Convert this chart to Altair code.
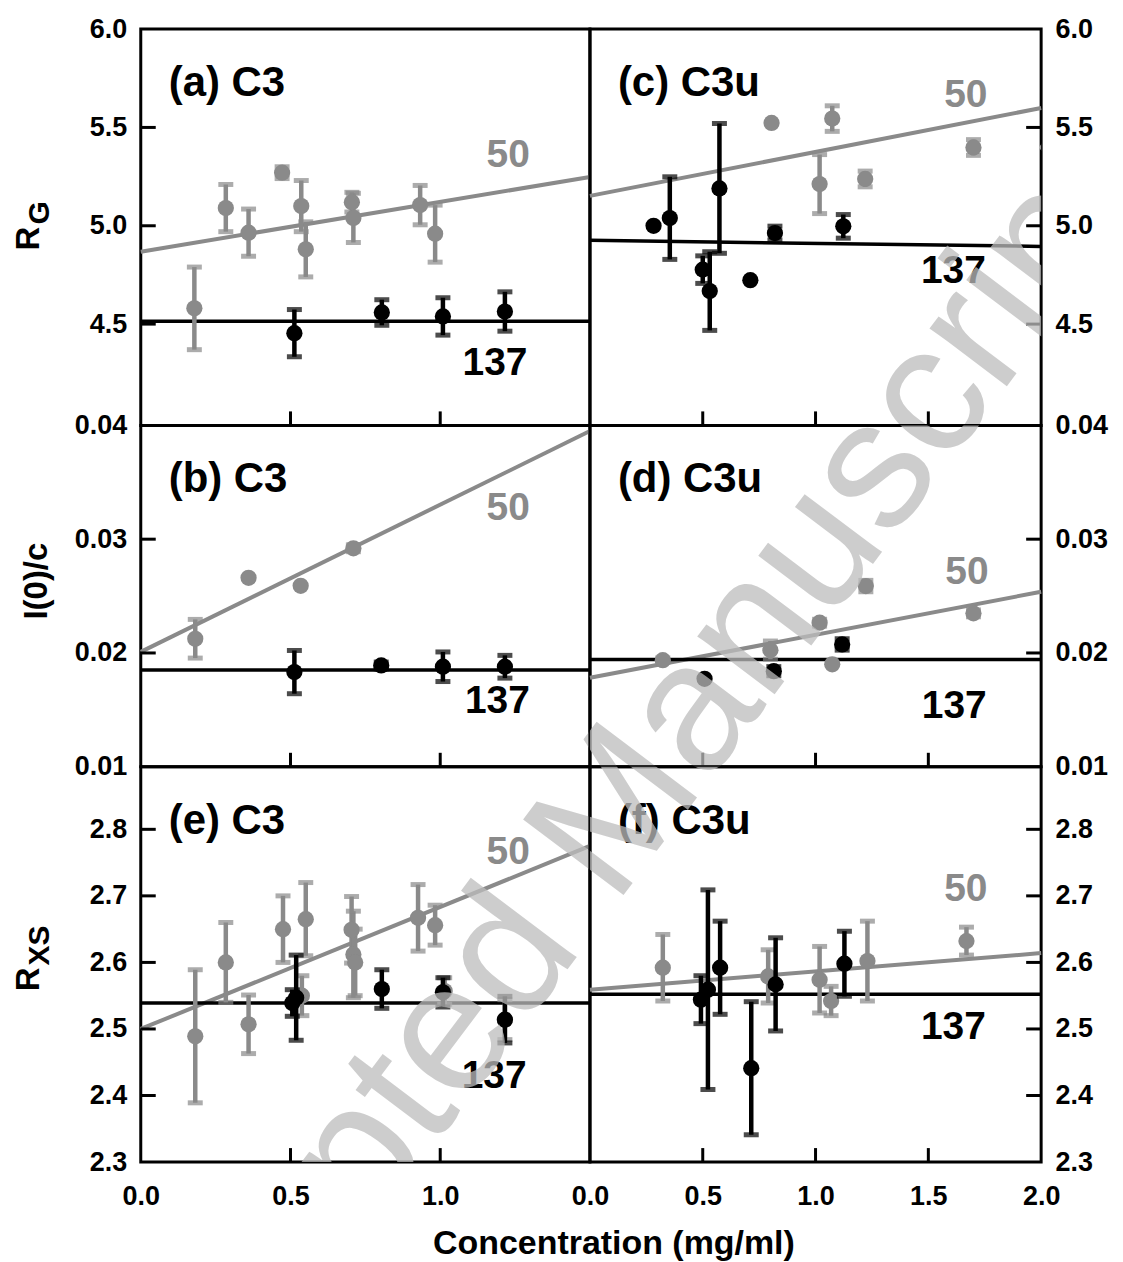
import altair as alt
import pandas as pd

GRAY = "#8a8a8a"
BLACK = "#000000"
FONT = "Liberation Sans"

# ---------------- data ----------------
# (a) C3, R_G
a_g_x = [0.179, 0.284, 0.36, 0.472, 0.536, 0.551, 0.705, 0.71, 0.933, 0.983]
a_g_y = [4.58, 5.09, 4.965, 5.27, 5.10, 4.88, 5.12, 5.04, 5.105, 4.96]
a_g_e = [0.21, 0.12, 0.12, 0.03, 0.13, 0.14, 0.05, 0.125, 0.10, 0.145]
a_b_x = [0.513, 0.805, 1.009, 1.216]
a_b_y = [4.454, 4.559, 4.539, 4.564]
a_b_e = [0.12, 0.065, 0.095, 0.10]
a_fit_x = [0.0, 1.5]
a_fit_g = [4.868, 5.248]
a_fit_b = [4.514, 4.514]

# (c) C3u, R_G
c_g_x = [0.805, 1.074, 1.018, 1.22, 1.70]
c_g_y = [5.523, 5.545, 5.212, 5.238, 5.398]
c_g_e = [0.0, 0.065, 0.15, 0.04, 0.04]
c_b_x = [0.282, 0.354, 0.574, 0.50, 0.531, 0.711, 0.82, 1.123]
c_b_y = [5.0, 5.039, 5.19, 4.777, 4.668, 4.723, 4.963, 4.997]
c_b_e = [0.0, 0.21, 0.33, 0.07, 0.20, 0.0, 0.035, 0.06]
c_fit_x = [0.0, 2.0]
c_fit_g = [5.152, 5.599]
c_fit_b = [4.926, 4.895]

# (b) C3, I(0)/c
b_g_x = [0.182, 0.36, 0.534, 0.71]
b_g_y = [0.02125, 0.0266, 0.0259, 0.0292]
b_g_e = [0.0017, 0.0, 0.0, 0.0003]
b_b_x = [0.513, 0.803, 1.009, 1.216]
b_b_y = [0.01832, 0.0189, 0.01879, 0.01879]
b_b_e = [0.0019, 0.0003, 0.0013, 0.001]
b_fit_x = [0.0, 1.5]
b_fit_g = [0.0201, 0.0395]
b_fit_b = [0.0185, 0.0185]

# (d) C3u, I(0)/c
d_g_x = [0.323, 0.80, 1.018, 1.074, 1.223, 1.70]
d_g_y = [0.01937, 0.02025, 0.02266, 0.0190, 0.02588, 0.02348]
d_g_e = [0.0002, 0.0008, 0.0003, 0.0, 0.0005, 0.0003]
d_b_x = [0.508, 0.815, 1.118]
d_b_y = [0.01773, 0.0184, 0.02075]
d_b_e = [0.0, 0.0004, 0.0005]
d_fit_x = [0.0, 2.0]
d_fit_g = [0.01782, 0.02538]
d_fit_b = [0.01943, 0.01943]

# (e) C3, R_XS
e_g_x = [0.182, 0.284, 0.36, 0.475, 0.551, 0.538, 0.704, 0.71, 0.716, 0.926, 0.983, 1.015, 1.216]
e_g_y = [2.489, 2.60, 2.507, 2.65, 2.665, 2.55, 2.649, 2.612, 2.60, 2.667, 2.656, 2.557, 2.514]
e_g_e = [0.10, 0.06, 0.044, 0.05, 0.055, 0.03, 0.05, 0.065, 0.05, 0.05, 0.03, 0.02, 0.03]
e_b_x = [0.506, 0.519, 0.805, 1.009, 1.216]
e_b_y = [2.539, 2.547, 2.56, 2.555, 2.514]
e_b_e = [0.02, 0.064, 0.029, 0.022, 0.035]
e_fit_x = [0.0, 1.5]
e_fit_g = [2.50, 2.775]
e_fit_b = [2.539, 2.539]

# (f) C3u, R_XS
f_g_x = [0.323, 0.79, 1.018, 1.069, 1.23, 1.669]
f_g_y = [2.592, 2.579, 2.574, 2.542, 2.602, 2.632]
f_g_e = [0.05, 0.04, 0.05, 0.022, 0.06, 0.021]
f_b_x = [0.492, 0.523, 0.577, 0.715, 0.823, 1.128]
f_b_y = [2.544, 2.559, 2.592, 2.441, 2.567, 2.598]
f_b_e = [0.036, 0.15, 0.07, 0.10, 0.07, 0.049]
f_fit_x = [0.0, 2.0]
f_fit_g = [2.559, 2.614]
f_fit_b = [2.552, 2.552]

# line labels (text, x, y)
a_labels = [("50", 1.227, 5.358), ("137", 1.183, 4.302)]
c_labels = [("50", 1.666, 5.666), ("137", 1.611, 4.769)]
b_labels = [("50", 1.227, 0.03276), ("137", 1.191, 0.01577)]
d_labels = [("50", 1.671, 0.02711), ("137", 1.615, 0.01533)]
e_labels = [("50", 1.227, 2.766), ("137", 1.18, 2.429)]
f_labels = [("50", 1.666, 2.711), ("137", 1.611, 2.503)]

panel_titles = ["(a) C3", "(c) C3u", "(b) C3", "(d) C3u", "(e) C3", "(f) C3u"]

y_ticks_top = [4.5, 5.0, 5.5, 6.0]
y_ticks_mid = [0.01, 0.02, 0.03, 0.04]
y_ticks_bot = [2.3, 2.4, 2.5, 2.6, 2.7, 2.8]
x_ticks_left = [0.0, 0.5, 1.0]
x_ticks_right = [0.0, 0.5, 1.0, 1.5, 2.0]

WATERMARK = "Accepted Manuscript"

# ---------------- layout ----------------
WL, WR = 450, 452
HT, HM, HB = 397, 342, 396
YDOM_T = [3.985, 6.0]
YDOM_M = [0.01, 0.04]
YDOM_B = [2.3, 2.894]
WM_C = (455, 814)  # watermark centre relative to panel (a) origin


def frame(x, y, e):
    df = pd.DataFrame({"x": x, "y": y, "e": e})
    df["lo"] = df["y"] - df["e"]
    df["hi"] = df["y"] + df["e"]
    return df


def panel(gx, gy, ge, bx, by, be, fx, fg, fb, labels, title, xdom, ydom, w, h,
          side, yvals, yfmt, xvals, origin, bottom, ytitle=None, xtitle=False):
    xs = alt.Scale(domain=xdom, nice=False, zero=False)
    ys = alt.Scale(domain=ydom, nice=False, zero=False)
    if bottom:
        xaxis = alt.Axis(values=xvals, format=".1f", title=None, ticks=False, tickSize=0,
                         domain=False, grid=False, labelFont=FONT, labelFontWeight="bold",
                         labelFontSize=27, labelColor="black", labelPadding=22,
                         labelFlush=False, labelOverlap=False)
    else:
        xaxis = None
    yaxis = alt.Axis(orient=side, values=yvals, format=yfmt, title=None, ticks=False,
                     tickSize=0, domain=False, grid=False, labelFont=FONT,
                     labelFontWeight="bold", labelFontSize=27, labelColor="black",
                     labelPadding=14, labelFlush=False, labelOverlap=False)

    def X(f):
        return alt.X(f, type="quantitative", scale=xs, axis=xaxis)

    def Y(f):
        return alt.Y(f, type="quantitative", scale=ys, axis=yaxis)

    g = frame(gx, gy, ge)
    b = frame(bx, by, be)
    fit = pd.DataFrame({"x": fx, "g": fg, "b": fb})

    layers = []
    layers.append(alt.Chart(fit).mark_line(color=GRAY, strokeWidth=4).encode(x=X("x"), y=Y("g")))
    layers.append(alt.Chart(fit).mark_line(color=BLACK, strokeWidth=3.5).encode(x=X("x"), y=Y("b")))
    for df, col in ((g, GRAY), (b, BLACK)):
        eb = df[df["e"] > 0]
        if len(eb):
            layers.append(alt.Chart(eb).mark_rule(color=col, strokeWidth=4.5).encode(
                x=X("x"), y=Y("lo"), y2="hi"))
            layers.append(alt.Chart(eb).mark_tick(color=col, orient="horizontal", size=15,
                                                  thickness=5).encode(x=X("x"), y=Y("lo")))
            layers.append(alt.Chart(eb).mark_tick(color=col, orient="horizontal", size=15,
                                                  thickness=5).encode(x=X("x"), y=Y("hi")))
        layers.append(alt.Chart(df).mark_circle(color=col, size=265, opacity=1).encode(
            x=X("x"), y=Y("y")))

    # inward ticks
    yt = pd.DataFrame({"v": [v for v in yvals if ydom[0] < v < ydom[1]]})
    if side == "left":
        layers.append(alt.Chart(yt).mark_rule(color="black", strokeWidth=3).encode(
            y=Y("v"), x=alt.value(0), x2=alt.value(15)))
    else:
        layers.append(alt.Chart(yt).mark_rule(color="black", strokeWidth=3).encode(
            y=Y("v"), x=alt.value(w - 15), x2=alt.value(w)))
    xt = pd.DataFrame({"v": [v for v in xvals if xdom[0] < v < xdom[1]]})
    layers.append(alt.Chart(xt).mark_rule(color="black", strokeWidth=3).encode(
        x=X("v"), y=alt.value(h - 14), y2=alt.value(h)))

    # line labels
    lab = pd.DataFrame(labels, columns=["t", "x", "y"])
    lab["c"] = [GRAY if t == "50" else BLACK for t in lab["t"]]
    layers.append(alt.Chart(lab).mark_text(font=FONT, fontWeight="bold", fontSize=39,
                                           align="center", baseline="middle").encode(
        x=X("x"), y=Y("y"), text="t:N", color=alt.Color("c:N", scale=None)))

    one = pd.DataFrame({"t": [title]})
    layers.append(alt.Chart(one).mark_text(font=FONT, fontWeight="bold", fontSize=42,
                                           align="left", baseline="middle", color="black").encode(
        x=alt.value(28), y=alt.value(54), text="t:N"))

    if ytitle is not None:
        for txt, size, px, py in ytitle:
            layers.append(alt.Chart(pd.DataFrame({"t": [txt]})).mark_text(
                font=FONT, fontWeight="bold", fontSize=size, angle=270, align="center",
                baseline="middle", color="black").encode(
                x=alt.value(px), y=alt.value(py), text="t:N"))
    if xtitle:
        layers.append(alt.Chart(pd.DataFrame({"t": ["Concentration (mg/ml)"]})).mark_text(
            font=FONT, fontWeight="bold", fontSize=34, align="center", baseline="middle",
            color="black").encode(x=alt.value(474), y=alt.value(h + 82), text="t:N"))

    # watermark, clipped to this panel
    layers.append(alt.Chart(pd.DataFrame({"t": [WATERMARK]})).mark_text(
        font=FONT, fontSize=183, angle=307, align="center", baseline="middle",
        color="#bdbdbd", opacity=0.75, clip=True).encode(
        x=alt.value(WM_C[0] - origin[0]), y=alt.value(WM_C[1] - origin[1]), text="t:N"))

    return alt.layer(*layers).properties(width=w, height=h)


pa = panel(a_g_x, a_g_y, a_g_e, a_b_x, a_b_y, a_b_e, a_fit_x, a_fit_g, a_fit_b, a_labels,
           panel_titles[0], [0, 1.5], YDOM_T, WL, HT, "left", y_ticks_top, ".1f",
           x_ticks_left, (0, 0), False,
           ytitle=[("R", 33, -112, 210), ("G", 30, -101, 184)])
pc = panel(c_g_x, c_g_y, c_g_e, c_b_x, c_b_y, c_b_e, c_fit_x, c_fit_g, c_fit_b, c_labels,
           panel_titles[1], [0, 2.0], YDOM_T, WR, HT, "right", y_ticks_top, ".1f",
           x_ticks_right, (WL, 0), False)
pb = panel(b_g_x, b_g_y, b_g_e, b_b_x, b_b_y, b_b_e, b_fit_x, b_fit_g, b_fit_b, b_labels,
           panel_titles[2], [0, 1.5], YDOM_M, WL, HM, "left", y_ticks_mid, ".2f",
           x_ticks_left, (0, HT), False,
           ytitle=[("I(0)/c", 33, -104, 156)])
pd_ = panel(d_g_x, d_g_y, d_g_e, d_b_x, d_b_y, d_b_e, d_fit_x, d_fit_g, d_fit_b, d_labels,
            panel_titles[3], [0, 2.0], YDOM_M, WR, HM, "right", y_ticks_mid, ".2f",
            x_ticks_right, (WL, HT), False)
pe = panel(e_g_x, e_g_y, e_g_e, e_b_x, e_b_y, e_b_e, e_fit_x, e_fit_g, e_fit_b, e_labels,
           panel_titles[4], [0, 1.5], YDOM_B, WL, HB, "left", y_ticks_bot, ".1f",
           x_ticks_left, (0, HT + HM), True,
           ytitle=[("R", 33, -112, 213), ("XS", 30, -101, 179)], xtitle=True)
pf = panel(f_g_x, f_g_y, f_g_e, f_b_x, f_b_y, f_b_e, f_fit_x, f_fit_g, f_fit_b, f_labels,
           panel_titles[5], [0, 2.0], YDOM_B, WR, HB, "right", y_ticks_bot, ".1f",
           x_ticks_right, (WL, HT + HM), True)

chart = alt.concat(pa, pc, pb, pd_, pe, pf, columns=2, spacing=0, bounds="flush",
                   align="each").properties(
    padding={"left": 3, "top": 4, "right": 5, "bottom": 5}
).configure_view(stroke="black", strokeWidth=3)

chart.save("out.html", embed_options={"renderer": "svg", "actions": False})
